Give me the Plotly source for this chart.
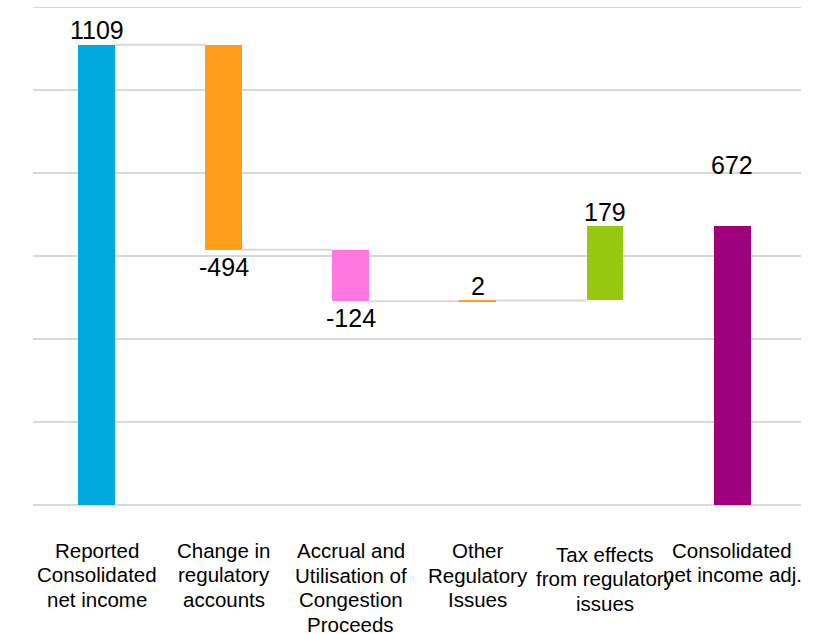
import plotly.graph_objects as go

categories = [
    "Reported<br>Consolidated<br>net income",
    "Change in<br>regulatory<br>accounts",
    "Accrual and<br>Utilisation of<br>Congestion<br>Proceeds",
    "Other<br>Regulatory<br>Issues",
    "Tax effects<br>from regulatory<br>issues",
    "Consolidated<br>net income adj.",
]
values = [1109, -494, -124, 2, 179, 672]
is_total = [True, False, False, False, False, True]
colors = ["#00A9E0", "#FF9E1B", "#FF77E0", "#FF9E1B", "#97C70F", "#9E007E"]
labels = ["1109", "-494", "-124", "2", "179", "672"]

# styling offsets (pixels)
label_shift = [15, -17, -17, 14, 14, 61]
cat_first_line_drop = [45, 45, 45.5, 45.5, 49, 45]  # below plot bottom
line_step = 24.5

# compute bases
bases, heights, tops = [], [], []
running = 0
for v, t in zip(values, is_total):
    if t:
        bases.append(0)
        heights.append(v)
        running = v
    else:
        b = running if v >= 0 else running + v
        bases.append(b)
        heights.append(abs(v))
        running += v
    tops.append(running)

xs = list(range(len(categories)))
bar_w = 0.29
FONT = "Arial, Liberation Sans, sans-serif"

fig = go.Figure()
fig.add_trace(go.Bar(
    x=xs, y=heights, base=bases, width=bar_w,
    marker=dict(color=colors, line=dict(width=0)),
    hoverinfo="skip",
))

shapes = []
# top gridline at range edge
shapes.append(dict(type="line", xref="paper", yref="y", x0=0, x1=1, y0=1200, y1=1200,
                   line=dict(color="#d9d9d9", width=2), layer="below"))
# connectors between bars (not into final total)
for i in range(len(values) - 2):
    level = tops[i]
    shapes.append(dict(
        type="line", xref="x", yref="y",
        x0=xs[i] + bar_w / 2, x1=xs[i + 1] - bar_w / 2,
        y0=level, y1=level,
        line=dict(color="#d9d9d9", width=2), layer="below",
    ))

annotations = []
for i, (v, lab) in enumerate(zip(values, labels)):
    if v >= 0:
        yv = bases[i] + heights[i]
    else:
        yv = bases[i]
    annotations.append(dict(
        x=xs[i], y=yv, xref="x", yref="y", text=lab, showarrow=False,
        yshift=label_shift[i], yanchor="middle",
        font=dict(family=FONT, size=25, color="#000000"),
    ))

for i, c in enumerate(categories):
    for j, line in enumerate(c.split("<br>")):
        annotations.append(dict(
            x=xs[i], y=0, xref="x", yref="paper", text=line, showarrow=False,
            yanchor="middle", yshift=-(cat_first_line_drop[i] + line_step * j),
            font=dict(family=FONT, size=20.5, color="#000000"),
        ))

fig.update_layout(
    width=831, height=634,
    margin=dict(l=33, r=30, t=7, b=129),
    paper_bgcolor="white", plot_bgcolor="white",
    showlegend=False,
    shapes=shapes,
    annotations=annotations,
    xaxis=dict(range=[-0.5, 5.542], showticklabels=False, showgrid=False,
               zeroline=False, showline=False, ticks=""),
    yaxis=dict(range=[0, 1200], dtick=200, showticklabels=False,
               showgrid=True, gridcolor="#d9d9d9", gridwidth=2,
               zeroline=True, zerolinecolor="#d9d9d9", zerolinewidth=2,
               showline=False, ticks=""),
    bargap=0,
)

fig.write_html("out.html")
